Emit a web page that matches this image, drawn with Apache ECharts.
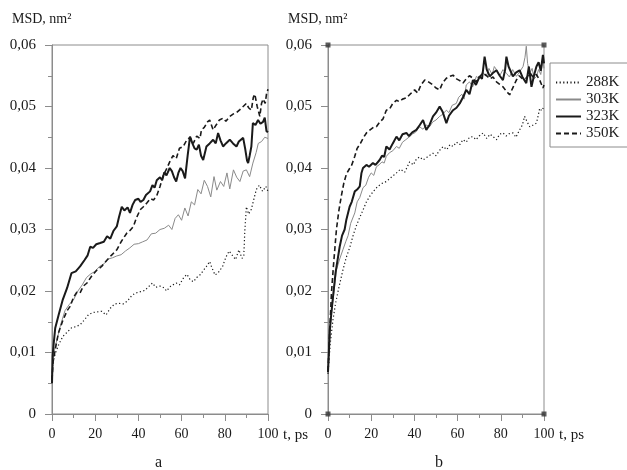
<!DOCTYPE html>
<html>
<head>
    <meta charset="utf-8">
    <title>MSD</title>
    <script src="https://cdn.jsdelivr.net/npm/echarts@6/dist/echarts.min.js"></script>
    <style>
        html, body { margin: 0; padding: 0; background: #fff; }
        #main { width: 627px; height: 470px; }
    </style>
</head>
<body>
<div id="main"></div>
<script>
// panel a: [t, MSD]
var a288 = [[0,0.0060],[0.5,0.0085],[1.5,0.0098],[3,0.0112],[5,0.0126],[7,0.0133],[9,0.0140],[11,0.0142],[13,0.0145],[15,0.0153],[17,0.0162],[19,0.0165],[21,0.0166],[23,0.0167],[25,0.0161],[27,0.0172],[29,0.0179],[31,0.0180],[33,0.0179],[35,0.0184],[37,0.0193],[39,0.0197],[41,0.0199],[43,0.0201],[45,0.0208],[46.5,0.0213],[48,0.0206],[50,0.0208],[52,0.0205],[53,0.0200],[55,0.0208],[57.5,0.0213],[59,0.0210],[61,0.0222],[62.5,0.0227],[64,0.0218],[65.5,0.0215],[67,0.0222],[68.5,0.0226],[70,0.0233],[71.5,0.0240],[73,0.0248],[74,0.0238],[75.5,0.0226],[77,0.0230],[79,0.0240],[80.5,0.0255],[82,0.0265],[83.5,0.0258],[85,0.0251],[86.5,0.0267],[88,0.0253],[88.8,0.0258],[89.3,0.0300],[90,0.0337],[91,0.0325],[92.3,0.0333],[93.5,0.0350],[94.6,0.0365],[96,0.0372],[97.5,0.0362],[99,0.0370],[100,0.0362]];
var a303 = [[0,0.0058],[0.5,0.0090],[1.2,0.0105],[2.3,0.0121],[4,0.0145],[6,0.0168],[8,0.0178],[10,0.0186],[12,0.0200],[14,0.0210],[16,0.0222],[18,0.0228],[20,0.0232],[22,0.0240],[24,0.0244],[26,0.0252],[28,0.0254],[30,0.0257],[32,0.0259],[34,0.0265],[36,0.0270],[38,0.0276],[40,0.0277],[42,0.0280],[44,0.0283],[46,0.0293],[48,0.0294],[50,0.0300],[52,0.0302],[54,0.0307],[55.5,0.0300],[57,0.0318],[58.5,0.0324],[60,0.0315],[61.5,0.0335],[63,0.0322],[64.5,0.0345],[66,0.0340],[67.5,0.0365],[69,0.0358],[70.5,0.0380],[72,0.0370],[73.5,0.0353],[75,0.0386],[76.3,0.0364],[78,0.0378],[79.5,0.0370],[81,0.0392],[82.3,0.0366],[84,0.0397],[85.5,0.0385],[87,0.0378],[88.5,0.0395],[90,0.0397],[91.5,0.0386],[93,0.0408],[94.5,0.0425],[95.5,0.0440],[97,0.0443],[98.5,0.0450],[100,0.0448]];
var a323 = [[0,0.0050],[0.3,0.0095],[0.8,0.0115],[1.5,0.0140],[3,0.0160],[5,0.0186],[7,0.0205],[9,0.0229],[11,0.0232],[13,0.0240],[15,0.0250],[16.5,0.0258],[17.7,0.0272],[19,0.0270],[20.5,0.0276],[22.3,0.0278],[24,0.0280],[25.5,0.0289],[27,0.0285],[28.5,0.0298],[30,0.0305],[31,0.0320],[32.3,0.0337],[33.5,0.0331],[35,0.0336],[36.1,0.0327],[37.3,0.0340],[38.5,0.0348],[40,0.0350],[41,0.0345],[42.3,0.0348],[43.5,0.0356],[45.4,0.0362],[46.5,0.0372],[47.5,0.0368],[48.5,0.0380],[50,0.0385],[51,0.0380],[52,0.0393],[53,0.0388],[54.5,0.0400],[55.5,0.0395],[56.5,0.0385],[57.5,0.0378],[58.5,0.0392],[59.5,0.0400],[60.5,0.0395],[61.6,0.0383],[62.8,0.0420],[63.9,0.0451],[65,0.0440],[66,0.0432],[67,0.0430],[68,0.0438],[69,0.0420],[70,0.0413],[71.5,0.0435],[73,0.0440],[74.6,0.0446],[75.8,0.0440],[76.9,0.0457],[78,0.0445],[79.2,0.0435],[80.5,0.0440],[82.3,0.0446],[83.8,0.0440],[85.4,0.0435],[86.5,0.0443],[88.5,0.0449],[89.5,0.0430],[90.3,0.0412],[90.8,0.0408],[91.5,0.0420],[92.3,0.0435],[93,0.0473],[94.2,0.0470],[95.4,0.0478],[96.5,0.0472],[97.7,0.0475],[98.5,0.0482],[99.3,0.0460],[100,0.0458]];
var a350 = [[0,0.0055],[0.5,0.0085],[1.5,0.0105],[3,0.0132],[5,0.0152],[7,0.0168],[8.4,0.0175],[10,0.0190],[11.5,0.0198],[13,0.0197],[14.5,0.0208],[16.2,0.0213],[18.5,0.0225],[20.8,0.0234],[23,0.0240],[25.4,0.0250],[27.5,0.0258],[30,0.0267],[32,0.0280],[34.6,0.0294],[36,0.0298],[37.7,0.0305],[39,0.0318],[40.8,0.0332],[42.3,0.0337],[43.9,0.0343],[45.5,0.0350],[47,0.0348],[48.5,0.0355],[50,0.0370],[51.5,0.0388],[53,0.0398],[54.5,0.0410],[56,0.0420],[57.5,0.0415],[59,0.0432],[60.8,0.0435],[62.3,0.0445],[63.9,0.0450],[65.4,0.0440],[67,0.0452],[68.5,0.0448],[69.2,0.0462],[70.5,0.0466],[72,0.0475],[73,0.0478],[74.6,0.0462],[76,0.0470],[77.5,0.0478],[79.2,0.0481],[80.5,0.0476],[82.3,0.0484],[84,0.0488],[85.4,0.0490],[87,0.0495],[88.5,0.0500],[90,0.0505],[91,0.0498],[92.3,0.0494],[93.2,0.0515],[93.9,0.0520],[95,0.0500],[96.2,0.0484],[97,0.0505],[97.7,0.0512],[98.7,0.0505],[99.3,0.0520],[100,0.0528]];

// panel b
var b288 = [[0,0.0065],[0.5,0.0090],[1.2,0.0120],[2.3,0.0153],[3.5,0.0180],[5,0.0205],[6.9,0.0234],[8.5,0.0255],[10,0.0270],[11.6,0.0290],[13,0.0305],[14.5,0.0318],[16,0.0330],[17.8,0.0345],[19.5,0.0355],[21,0.0362],[23,0.0370],[25,0.0375],[27,0.0378],[29.3,0.0385],[31.7,0.0392],[33.5,0.0398],[35.5,0.0393],[37.8,0.0410],[39.5,0.0405],[41,0.0415],[42.5,0.0418],[44,0.0413],[46,0.0418],[48.6,0.0424],[50,0.0420],[51.5,0.0428],[53.3,0.0435],[55,0.0430],[56.5,0.0438],[57.9,0.0435],[59.5,0.0442],[61,0.0438],[62.5,0.0446],[64,0.0442],[65.5,0.0450],[67.1,0.0451],[68.5,0.0446],[70,0.0452],[71.8,0.0457],[73.5,0.0448],[75,0.0455],[76.4,0.0451],[78,0.0446],[79.5,0.0455],[81,0.0457],[82.5,0.0452],[84,0.0456],[85.6,0.0457],[87,0.0450],[88.7,0.0462],[90,0.0470],[91,0.0484],[92.2,0.0475],[93.4,0.0467],[95,0.0470],[96.5,0.0473],[97.3,0.0485],[98,0.0497],[99,0.0493],[100,0.0500]];
var b303 = [[0,0.0070],[0.5,0.0100],[1.6,0.0164],[2.8,0.0200],[3.9,0.0234],[5.4,0.0252],[6.9,0.0267],[8.2,0.0280],[9.3,0.0290],[10.5,0.0310],[12.4,0.0327],[13.5,0.0345],[14.7,0.0352],[16.2,0.0368],[17.5,0.0372],[18.8,0.0385],[20,0.0392],[21.2,0.0388],[22.4,0.0402],[23.6,0.0405],[25,0.0410],[26,0.0408],[27,0.0419],[28.5,0.0425],[30,0.0428],[31.7,0.0435],[33,0.0432],[34.5,0.0442],[36,0.0446],[37.8,0.0451],[39,0.0455],[40.5,0.0458],[42.4,0.0467],[44,0.0463],[45.5,0.0470],[47,0.0467],[48.5,0.0475],[50,0.0478],[51.7,0.0484],[53,0.0487],[54.8,0.0494],[56,0.0490],[57.5,0.0502],[59.4,0.0505],[60.5,0.0515],[62,0.0520],[63,0.0512],[64,0.0535],[65.5,0.0540],[67,0.0532],[68.7,0.0549],[70,0.0545],[71.5,0.0556],[73.3,0.0549],[74.5,0.0562],[76,0.0552],[77,0.0565],[78,0.0560],[79.5,0.0550],[81,0.0560],[82.6,0.0554],[84,0.0548],[85.5,0.0560],[87.2,0.0549],[88.5,0.0555],[90.3,0.0565],[91.2,0.0580],[91.8,0.0598],[92.4,0.0570],[93.4,0.0554],[94.5,0.0562],[95.5,0.0545],[96.5,0.0549],[97.5,0.0560],[98.5,0.0552],[99.5,0.0575],[100,0.0562]];
var b323 = [[0,0.0068],[0.4,0.0100],[0.8,0.0137],[2,0.0180],[3.5,0.0230],[5.4,0.0272],[6.5,0.0290],[7.7,0.0300],[8.5,0.0316],[10,0.0337],[11,0.0345],[12.4,0.0362],[13.5,0.0365],[14.7,0.0370],[15.5,0.0392],[16.2,0.0400],[17.8,0.0405],[19,0.0402],[20.8,0.0408],[22,0.0405],[23.9,0.0413],[25,0.0420],[26,0.0418],[27,0.0435],[28.5,0.0430],[30,0.0440],[31.7,0.0451],[33,0.0445],[34.5,0.0455],[36.3,0.0457],[37.5,0.0452],[39,0.0458],[40.9,0.0462],[42.5,0.0470],[44,0.0478],[45.5,0.0462],[47,0.0470],[48.6,0.0484],[50,0.0490],[51.7,0.0500],[53,0.0492],[54.8,0.0473],[56,0.0485],[57.9,0.0494],[59.5,0.0498],[61,0.0505],[62.5,0.0515],[64,0.0527],[65.5,0.0520],[67.1,0.0543],[68.5,0.0535],[70.2,0.0549],[71.3,0.0545],[72.5,0.0581],[73.5,0.0560],[74.9,0.0549],[76.5,0.0555],[78,0.0559],[79.5,0.0550],[81,0.0543],[82,0.0560],[82.6,0.0581],[83.6,0.0565],[85.6,0.0549],[87,0.0555],[88.7,0.0559],[90,0.0548],[91.8,0.0538],[93,0.0565],[94.2,0.0532],[95.5,0.0552],[96.5,0.0565],[97.5,0.0572],[98.5,0.0558],[99.5,0.0584],[100,0.0570]];
var b350 = [[0,0.0070],[0.5,0.0110],[1,0.0150],[1.6,0.0197],[2.5,0.0240],[3.9,0.0300],[5,0.0330],[6.2,0.0355],[7.3,0.0375],[8.5,0.0390],[9.8,0.0398],[11,0.0405],[12.4,0.0419],[13.5,0.0432],[15,0.0440],[16.5,0.0450],[17.8,0.0457],[19.5,0.0462],[21,0.0466],[22.4,0.0467],[24,0.0475],[25.5,0.0480],[27,0.0494],[28.5,0.0496],[30,0.0505],[31.7,0.0510],[33,0.0508],[34.5,0.0512],[36.3,0.0514],[38,0.0520],[40.1,0.0527],[41.5,0.0522],[43,0.0535],[44.8,0.0543],[46.5,0.0540],[48.6,0.0535],[50,0.0530],[51.7,0.0527],[53,0.0538],[54.8,0.0546],[56.5,0.0549],[57.9,0.0551],[59.5,0.0545],[61,0.0542],[62.5,0.0538],[64,0.0545],[65.5,0.0550],[67.1,0.0546],[68.5,0.0540],[70,0.0548],[71.8,0.0554],[73.5,0.0550],[75,0.0545],[76.4,0.0548],[78,0.0540],[79.5,0.0536],[81,0.0532],[82.5,0.0525],[84.1,0.0519],[85.5,0.0530],[87.2,0.0543],[88.5,0.0550],[90,0.0545],[91.8,0.0546],[93.5,0.0555],[94.9,0.0548],[96.5,0.0552],[98,0.0543],[99.5,0.0530],[100,0.0535]];

// little squares on the corners of panel b
var bCorners = [[0,0],[100,0],[0,0.06],[100,0.06]];

var names = ['288K', '303K', '323K', '350K'];

var FONT = '"Liberation Serif", "DejaVu Serif", serif';
var INK = '#1a1a1a';
var AXIS = '#8c8c8c';

var styles = {
    '288K': { color: INK, width: 1.2, type: [1.2, 2.4] },
    '303K': { color: '#8a8a8a', width: 1, type: 'solid' },
    '323K': { color: INK, width: 2, type: 'solid' },
    '350K': { color: INK, width: 1.6, type: [5, 3] }
};

function xAxisFor(idx) {
    return {
        gridIndex: idx, type: 'value', min: 0, max: 100, interval: 20,
        axisLine: { lineStyle: { color: AXIS, width: 1 } },
        axisTick: { show: true, length: 7, lineStyle: { color: AXIS } },
        minorTick: { show: true, splitNumber: 2, length: 4, lineStyle: { color: AXIS } },
        splitLine: { show: false },
        axisLabel: { margin: 13, color: INK, fontFamily: FONT, fontSize: 14 }
    };
}
function yAxisFor(idx) {
    return {
        gridIndex: idx, type: 'value', min: 0, max: 0.06, interval: 0.01,
        axisLine: { show: true, lineStyle: { color: AXIS, width: 1 } },
        axisTick: { show: true, length: 7, lineStyle: { color: AXIS } },
        minorTick: { show: true, splitNumber: 2, length: 4, lineStyle: { color: AXIS } },
        splitLine: { show: false },
        axisLabel: {
            margin: 16, color: INK, fontFamily: FONT, fontSize: 15,
            formatter: function (v) { return v === 0 ? '0' : v.toFixed(2).replace('.', ','); }
        }
    };
}

function lineSeries(name, data, idx) {
    var s = styles[name];
    return {
        name: name, type: 'line', xAxisIndex: idx, yAxisIndex: idx,
        data: data, showSymbol: false, symbol: 'none', animation: false,
        lineStyle: { color: s.color, width: s.width, type: s.type },
        itemStyle: { color: s.color }
    };
}

var chart = echarts.init(document.getElementById('main'));
var option = {
    backgroundColor: '#fff',
    animation: false,
    grid: [
        { left: 52, top: 45, width: 216, height: 369, show: true, borderColor: AXIS, borderWidth: 1, backgroundColor: 'transparent', outerBoundsMode: 'none' },
        { left: 328, top: 45, width: 216, height: 369, show: true, borderColor: AXIS, borderWidth: 1, backgroundColor: 'transparent', outerBoundsMode: 'none' }
    ],
    xAxis: [xAxisFor(0), xAxisFor(1)],
    yAxis: [yAxisFor(0), yAxisFor(1)],
    legend: {
        data: names, orient: 'vertical', left: 550, top: 63,
        itemWidth: 25, itemHeight: 14, itemGap: 2,
        padding: [12, 40, 6, 5],
        borderColor: AXIS, borderWidth: 1, backgroundColor: '#fff',
        itemStyle: { opacity: 0 },
        textStyle: { fontFamily: FONT, fontSize: 15, color: INK }
    },
    graphic: [
        { type: 'text', left: 12, top: 12, style: { text: 'MSD, nm²', font: '14px ' + FONT, fill: INK } },
        { type: 'text', left: 288, top: 12, style: { text: 'MSD, nm²', font: '14px ' + FONT, fill: INK } },
        { type: 'text', left: 283, top: 428, style: { text: 't, ps', font: '15px ' + FONT, fill: INK } },
        { type: 'text', left: 559, top: 428, style: { text: 't, ps', font: '15px ' + FONT, fill: INK } },
        { type: 'text', left: 155, top: 455, style: { text: 'a', font: '16px ' + FONT, fill: INK } },
        { type: 'text', left: 435, top: 455, style: { text: 'b', font: '16px ' + FONT, fill: INK } }
    ],
    series: [
        lineSeries('288K', a288, 0),
        lineSeries('303K', a303, 0),
        lineSeries('350K', a350, 0),
        lineSeries('323K', a323, 0),
        lineSeries('288K', b288, 1),
        lineSeries('303K', b303, 1),
        lineSeries('350K', b350, 1),
        lineSeries('323K', b323, 1),
        {
            name: 'corners', type: 'scatter', xAxisIndex: 1, yAxisIndex: 1,
            data: bCorners, symbol: 'rect', symbolSize: 5, clip: false, silent: true,
            itemStyle: { color: '#333' }
        }
    ]
};
chart.setOption(option);
window.onresize = function () { chart.resize(); };
</script>
</body>
</html>
